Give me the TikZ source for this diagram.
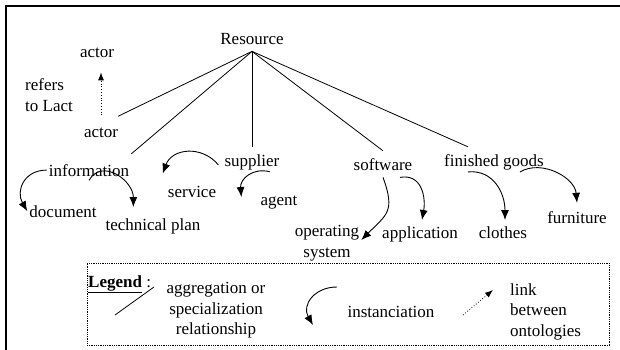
\documentclass[tikz,border=0pt]{standalone}
\usepackage{fontspec}
\setmainfont{Liberation Serif}
\usetikzlibrary{arrows.meta,positioning}

\begin{document}
\begin{tikzpicture}[x=1pt, y=1pt,
    lbl/.style={inner sep=2pt, font=\fontsize{17}{20.5}\selectfont},
    part/.style={line width=0.8pt},
    inst/.style={-{Latex[length=10pt,width=8pt]}, line width=0.9pt},
    onto/.style={-{Latex[length=8pt,width=6pt]}, dotted, line width=0.8pt}]

    \useasboundingbox (0,0) rectangle (620,-350);
    \draw[line width=1.5pt] (6,-350) -- (6,-6) -- (620,-6);

    % concepts
    \node[lbl, anchor=base] (res) at (252,-45) {Resource};
    \node[lbl, anchor=base] (actorL) at (97,-58) {actor};
    \node[lbl, anchor=west, align=left] (refers) at (23,-95) {refers\\to Lact};
    \node[lbl, anchor=base] (actor) at (101,-137) {actor};
    \node[lbl, anchor=base] (info) at (89,-176) {information};
    \node[lbl, anchor=base] (sup) at (252,-166) {supplier};
    \node[lbl, anchor=base] (soft) at (383,-170) {software};
    \node[lbl, anchor=base] (fin) at (494,-166) {finished goods};
    \node[lbl, anchor=base] (doc) at (63,-217) {document};
    \node[lbl, anchor=base] (plan) at (153,-230) {technical plan};
    \node[lbl, anchor=base] (serv) at (192,-197) {service};
    \node[lbl, anchor=base] (agent) at (279,-205) {agent};
    \node[lbl, align=center] (os) at (327,-243) {operating\\system};
    \node[lbl, anchor=base] (app) at (420,-238) {application};
    \node[lbl, anchor=base] (clothes) at (503,-238) {clothes};
    \node[lbl, anchor=base] (furn) at (577,-223) {furniture};

    % aggregation / specialization
    \draw[part] ([yshift=-4pt]res.south) -- ([xshift=-2pt,yshift=9pt]actor.north east);
    \draw[part] ([yshift=-4pt]res.south) -- ([yshift=8pt]info.north east);
    \draw[part] ([yshift=-4pt]res.south) -- ([yshift=5pt]sup.north);
    \draw[part] ([yshift=-4pt]res.south) -- ([yshift=5pt]soft.north);
    \draw[part] ([yshift=-4pt]res.south) -- ([xshift=-26pt,yshift=5pt]fin.north);

    % link to the other ontology
    \draw[onto] ([yshift=10pt]actor.north) -- ([xshift=4pt,yshift=-12pt]actorL.south);

    % instanciation
    \draw[inst] (info.west) to[out=180,in=120,looseness=1.3] (doc.west);
    \draw[inst] ([yshift=-2pt]info.south) to[out=60,in=90,looseness=1.3] ([xshift=30pt,yshift=9pt]plan.north west);
    \draw[inst] ([xshift=-4pt,yshift=-3pt]sup.west) to[out=130,in=70,looseness=1.2] ([xshift=-3pt,yshift=10pt]serv.north west);
    \draw[inst] ([xshift=18pt]sup.south) to[out=165,in=95,looseness=1.2] ([xshift=-17pt,yshift=5pt]agent.west);
    \draw[inst] ([yshift=-5pt]soft.south) to[out=-70,in=45,looseness=1.4] ([yshift=3pt]os.east);
    \draw[inst] ([xshift=17pt,yshift=-5pt]soft.south) to[out=10,in=80,looseness=1.2] ([xshift=2pt,yshift=4pt]app.north);
    \draw[inst] ([xshift=-26pt]fin.south) to[out=5,in=90,looseness=1.1] ([xshift=2pt,yshift=4pt]clothes.north);
    \draw[inst] ([xshift=26pt]fin.south) to[out=30,in=95] ([yshift=6pt]furn.north);

    % legend
    \node[draw, densely dotted, line width=0.8pt, minimum width=522pt, minimum height=82pt, inner sep=0pt] (legend) at (348,-304) {};
    \node[lbl, anchor=base west] (legtitle) at (86,-287) {\underline{\textbf{Legend}} :};
    \coordinate (aggA) at (115,-315);
    \coordinate (aggB) at (154,-287);
    \draw[part] (aggA) -- (aggB);
    \node[lbl, align=center] (aggtxt) at (216,-310.5) {aggregation or\\specialization\\relationship};
    \coordinate (instA) at (337,-287);
    \coordinate (instB) at (313,-325);
    \draw[inst] (instA) to[out=180,in=120,looseness=1.3] (instB);
    \node[lbl, anchor=base] (insttxt) at (391,-317) {instanciation};
    \coordinate (ontoA) at (463,-315);
    \coordinate (ontoB) at (493,-290);
    \draw[onto] (ontoA) -- (ontoB);
    \node[lbl, anchor=west, align=left] (ontotxt) at (508,-311.5) {link\\between\\ontologies};
\end{tikzpicture}
\end{document}
